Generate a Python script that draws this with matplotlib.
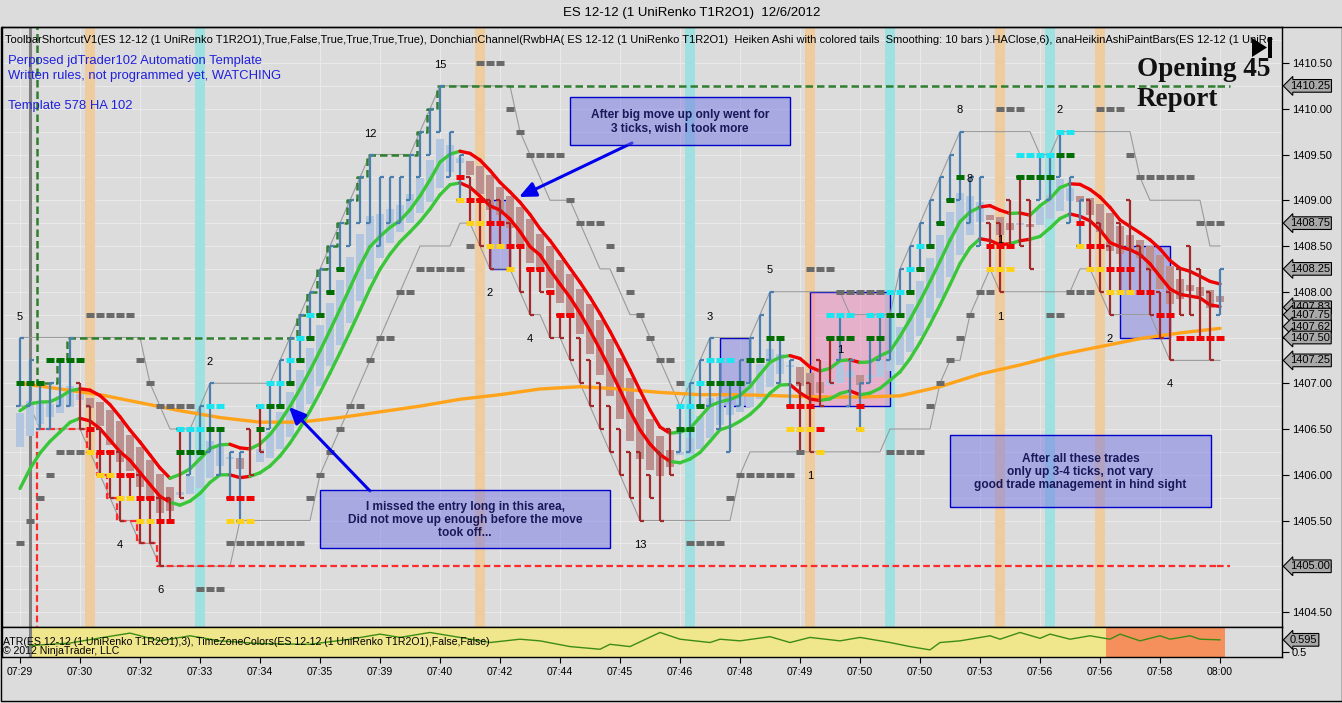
import numpy as np
import matplotlib
matplotlib.use("Agg")
import matplotlib.pyplot as plt
import matplotlib.transforms as mtransforms
from matplotlib.collections import LineCollection
from matplotlib.patches import Rectangle, Polygon

plt.rcParams['font.family'] = ['Liberation Sans', 'DejaVu Sans']

# ---------------- data: prices in ticks above 1404.00 (1 tick = 0.25) ----------------
bar_high = [14, 13, 12, 12, 13, 14, 12, 11, 10, 9,
            9, 8, 8, 7, 7, 7, 10, 10, 11, 12,
            10, 9, 9, 10, 11, 12, 13, 14, 15, 16,
            17, 18, 19, 20, 21, 22, 21, 21, 21, 22,
            23, 24, 25, 23, 22, 21, 20, 20, 20, 19,
            18, 17, 17, 16, 15, 15, 14, 13, 12, 11,
            10, 9, 9, 8, 9, 10, 11, 12, 13, 14,
            13, 12, 13, 14, 15, 16, 14, 13, 12, 12,
            13, 14, 15, 13, 12, 14, 15, 15, 17, 18,
            19, 20, 21, 22, 23, 21, 21, 19, 19, 20,
            21, 20, 22, 22, 23, 21, 20, 20, 19, 18,
            19, 20, 18, 17, 16, 16, 17, 18, 17, 16,
            17]
bar_low = [11, 11, 10, 10, 11, 11, 10, 9, 8, 7,
           6, 7, 5, 5, 4, 6, 7, 8, 9, 9,
           8, 7, 6, 8, 9, 10, 11, 12, 13, 14,
           15, 16, 17, 18, 19, 19, 18, 19, 19, 20,
           21, 22, 23, 21, 20, 19, 18, 17, 18, 17,
           16, 15, 16, 14, 14, 13, 12, 11, 10, 9,
           8, 7, 6, 7, 6, 8, 9, 9, 11, 11,
           10, 9, 11, 12, 13, 13, 12, 11, 9, 9,
           11, 12, 13, 11, 10, 12, 13, 13, 15, 16,
           17, 18, 19, 20, 20, 19, 18, 17, 16, 18,
           18, 17, 20, 20, 21, 19, 18, 17, 16, 15,
           16, 16, 16, 15, 14, 13, 15, 15, 14, 13,
           15]
bar_dir = ("uuuuuudddd" "ddddddduuu" "uuudduuuuu" "uuuuuuuuuu" "uuuuuddddd"
           "dddddddddd" "dddddduuuu" "uuuuuuuudd" "dduuuuuuuu" "uuuuuuuddd"
           "dduuuuuddd" "dddddddddd" "u")

# indicator state at the first visible bar
ha_close_start = 10.7
ha_open_start = 9.2
band_hi_start = 10.8
band_lo_start = 7.4

# slow moving average (orange), read every 4 bars
ma_bars = list(range(0, 121, 4))
ma_ticks = [12.0, 11.75, 11.5, 11.15, 10.8, 10.5, 10.3, 10.3, 10.5, 10.75, 11.0,
            11.3, 11.5, 11.75, 11.85, 11.75, 11.6, 11.5, 11.5, 11.45, 11.4,
            11.4, 11.45, 11.85, 12.4, 12.8, 13.25, 13.6, 13.95, 14.2, 14.4]

# ATR(3) panel values
atr_bars = [1, 5, 8, 11, 14, 17, 20, 24, 29, 33, 36, 38, 41, 44, 47, 50, 52, 55, 58, 59,
            61, 64, 66, 69, 70, 72, 75, 77, 79, 82, 84, 87, 89, 91, 92, 94, 97, 98, 100,
            102, 103, 105, 107, 109, 110, 112, 114, 115, 117, 118, 120]
atr_vals = [0.55, 0.57, 0.61, 0.648, 0.587, 0.627, 0.587, 0.565, 0.56, 0.60, 0.64, 0.614,
            0.653, 0.614, 0.574, 0.60, 0.587, 0.542, 0.521, 0.56, 0.542, 0.653, 0.60, 0.574,
            0.60, 0.587, 0.62, 0.574, 0.614, 0.587, 0.614, 0.574, 0.542, 0.516, 0.574, 0.587,
            0.627, 0.60, 0.653, 0.607, 0.64, 0.60, 0.627, 0.60, 0.64, 0.587, 0.627, 0.60,
            0.627, 0.60, 0.595]

# level markers: (tick, first bar, last bar)
mk_green = [(12, 0, 2), (13, 3, 6), (9, 16, 18), (10, 19, 20), (10, 24, 24), (11, 25, 26),
            (12, 27, 27), (13, 28, 28), (14, 29, 29), (15, 30, 30), (16, 31, 31), (17, 32, 32),
            (10, 66, 67), (11, 68, 68), (12, 69, 72), (13, 73, 74), (14, 75, 76), (14, 81, 83),
            (14, 85, 86), (15, 87, 88), (16, 89, 89), (17, 90, 90), (18, 91, 91), (19, 92, 92),
            (20, 93, 93), (21, 94, 94), (21, 100, 103), (22, 104, 105)]
mk_cyan = [(10, 16, 18), (11, 19, 20), (11, 24, 24), (12, 25, 26), (13, 27, 27), (14, 28, 28),
           (15, 29, 29), (11, 66, 67), (12, 68, 68), (13, 69, 71), (15, 81, 83), (15, 85, 86),
           (16, 87, 88), (17, 89, 89), (18, 90, 90), (22, 100, 103), (23, 104, 105)]
mk_red = [(10, 7, 7), (9, 8, 9), (8, 10, 11), (7, 12, 13), (6, 14, 15), (7, 21, 23),
          (21, 44, 44), (20, 45, 46), (19, 47, 48), (18, 49, 50), (17, 51, 52), (16, 53, 53),
          (15, 54, 55), (11, 77, 79), (10, 80, 80), (11, 84, 84), (18, 97, 99), (19, 106, 106),
          (18, 107, 108), (17, 109, 111), (16, 112, 113), (15, 114, 115), (14, 116, 120)]
mk_yellow = [(9, 7, 7), (8, 8, 9), (7, 10, 11), (6, 12, 13), (6, 21, 23), (20, 44, 44),
             (19, 45, 46), (18, 47, 48), (17, 49, 49), (10, 77, 79), (9, 80, 80), (10, 84, 84),
             (17, 97, 99), (18, 106, 106), (17, 107, 108), (16, 109, 111)]
mk_gray = [(5, 0, 0), (6, 1, 1), (7, 2, 2), (8, 3, 3), (9, 4, 6), (15, 7, 11), (13, 12, 12),
           (12, 13, 13), (11, 14, 17), (3, 18, 20), (5, 21, 28), (7, 29, 29), (8, 30, 30),
           (9, 31, 31), (10, 32, 32), (11, 33, 34), (13, 35, 35), (14, 36, 37), (16, 38, 39),
           (17, 40, 44), (18, 45, 45), (26, 46, 48), (24, 49, 49), (23, 50, 50), (22, 51, 54),
           (20, 55, 55), (19, 56, 58), (18, 59, 59), (17, 60, 60), (16, 61, 61), (15, 62, 62),
           (14, 63, 63), (13, 64, 65), (12, 66, 66), (5, 67, 70), (7, 71, 71), (8, 72, 77),
           (9, 78, 78), (17, 79, 81), (16, 82, 86), (9, 87, 90), (11, 91, 91), (12, 92, 92),
           (13, 93, 93), (14, 94, 94), (15, 95, 95), (16, 96, 97), (24, 98, 100), (15, 103, 104),
           (16, 105, 107), (24, 108, 110), (22, 111, 111), (21, 112, 117), (19, 118, 120)]

# bar-count labels
count_bar = [0, 19, 10, 14, 35, 42, 47, 51, 62, 69, 75, 79, 82, 94, 95, 104, 98, 98, 109, 115]
count_tick = [14.9, 12.95, 4.95, 2.95, 22.9, 25.9, 15.95, 13.95, 4.95, 14.9, 16.95, 7.95,
              13.45, 23.95, 20.95, 23.95, 14.9, 18.25, 13.95, 11.95]
count_text = ["5", "2", "4", "6", "12", "15", "2", "4", "13", "3", "5", "1",
              "1", "8", "8", "2", "1", "1", "2", "4"]

# trade boxes: (first bar, last bar, low tick, high tick)
trade_boxes = [(47, 49, 17, 20), (70, 73, 11, 14), (110, 115, 14, 18)]
pink_boxes = [(79, 87, 11, 16)]

# time-zone colour bands (bar index)
band_orange = [7, 46, 79, 98, 108]
band_cyan = [18, 67, 87, 103]
session_bar = 1
atr_alert_start = 108.6

# x-axis labels (every 6 bars)
time_labels = ["07:29", "07:30", "07:32", "07:33", "07:34", "07:35", "07:39", "07:40",
               "07:42", "07:44", "07:45", "07:46", "07:48", "07:49", "07:50", "07:50",
               "07:53", "07:56", "07:56", "07:58", "08:00"]
price_tags = [1410.25, 1408.75, 1408.25, 1407.83, 1407.75, 1407.62, 1407.50, 1407.25, 1405.00]
atr_tag = 0.595

# ---------------- derived series ----------------
def P(t):
    return 1404.0 + 0.25 * np.asarray(t, float)

hi = np.array(bar_high, float)
lo = np.array(bar_low, float)
up = np.array([d == 'u' for d in bar_dir])
n = len(hi)
idx = np.arange(n)
op = np.where(up, lo, hi)
cl = np.where(up, hi, lo)
mid = (op + hi + lo + cl) / 4


def ema(x, span, seed=None):
    a = 2.0 / (span + 1)
    out = np.empty_like(x)
    out[0] = x[0] if seed is None else seed
    for k in range(1, len(x)):
        out[k] = a * x[k] + (1 - a) * out[k - 1]
    return out


# smoothed Heiken Ashi bodies
hs_c = ema(mid, 4, ha_close_start)
hs_o = np.empty(n)
hs_o[0] = ha_open_start
for k in range(1, n):
    hs_o[k] = (2 * hs_o[k - 1] + hs_c[k - 1]) / 3
bull = hs_c >= hs_o

# raw HA for the two trend lines
ha_o = np.empty(n)
ha_o[0] = ha_open_start
for k in range(1, n):
    ha_o[k] = (ha_o[k - 1] + mid[k - 1]) / 2
line_a = ema(np.maximum(ha_o, mid), 7, band_hi_start)
line_b = ema(np.minimum(ha_o, mid), 7, band_lo_start)

don_hi = np.array([hi[max(0, k - 7):k + 1].max() for k in range(n)])
don_lo = np.array([lo[max(0, k - 7):k + 1].min() for k in range(n)])
s0 = 2
cum_hi = np.maximum.accumulate(hi[s0:])
cum_lo = np.minimum.accumulate(lo[s0:])

# ---------------- figure ----------------
W, H = 1342, 703
BG = '#dcdcdc'
fig = plt.figure(figsize=(W / 100, H / 100), dpi=100)
fig.patch.set_facecolor(BG)
PX = mtransforms.Affine2D().scale(1.0 / W, -1.0 / H).translate(0, 1) + fig.transFigure

L, R, T, B1, B2 = 2, 1282, 27, 626.5, 657
ax = fig.add_axes([L / W, (H - B1) / H, (R - L) / W, (B1 - T) / H])
ax2 = fig.add_axes([L / W, (H - B2) / H, (R - L) / W, (B2 - B1) / H], sharex=ax)
for a in (ax, ax2):
    a.set_facecolor(BG)
    for s in a.spines.values():
        s.set_color('black')
        s.set_linewidth(1.0)

ax.set_xlim(-1.8, 126.2)
ax.set_ylim(1404.3416, 1410.8935)

# grid
for k in range(0, 28):
    ax.axhline(P(k), color='#e9e9e9', lw=0.8, zorder=0.5)
for k in range(0, 121, 6):
    ax.axvline(k, color='#e9e9e9', lw=0.8, zorder=0.5)

# time zone bands
for b in band_orange:
    ax.axvspan(b - 0.5, b + 0.5, color='#efcc9e', lw=0, zorder=0.6)
for b in band_cyan:
    ax.axvspan(b - 0.5, b + 0.5, color='#9fe0e0', lw=0, zorder=0.6)
ax.axvline(session_bar, color='#808080', lw=2.2, zorder=0.7)

# trade boxes
for (i0, i1, t0, t1) in trade_boxes:
    ax.add_patch(Rectangle((i0, P(t0)), i1 - i0, P(t1) - P(t0), fc=(0.47, 0.47, 0.9, 0.45),
                           ec='#0000cc', lw=1.0, zorder=1))
for (i0, i1, t0, t1) in pink_boxes:
    ax.add_patch(Rectangle((i0, P(t0)), i1 - i0, P(t1) - P(t0), fc=(0.95, 0.45, 0.7, 0.42),
                           ec='#0000cc', lw=1.0, zorder=1))

# donchian (gray)
ax.plot(idx, P(don_hi), color='#9a9a9a', lw=0.8, zorder=2)
ax.plot(idx, P(don_lo), color='#9a9a9a', lw=0.8, zorder=2)

# heiken ashi bodies
bc = np.where(bull, '#b3c6e0', '#bd9090')
ax.bar(idx, P(hs_c) - P(hs_o), bottom=P(hs_o), width=0.72, color=bc, lw=0, zorder=2.2)

# session high / low (dashed)
xs = np.concatenate([[s0 - 0.3], idx[s0:] - 0.3])
ax.plot(xs, np.concatenate([[P(40)], P(cum_hi)]), color='#2f7f2f', lw=1.8,
        ls=(0, (3, 1.6)), drawstyle='steps-post', zorder=3)
ax.plot(xs, np.concatenate([[P(-10)], P(cum_lo)]), color='#ff2a2a', lw=1.6,
        ls=(0, (3, 1.6)), drawstyle='steps-post', zorder=3)
ax.plot([idx[-1] - 0.3, 121], [P(cum_hi[-1])] * 2, color='#2f7f2f', lw=1.8, ls=(0, (3, 1.6)), zorder=3)
ax.plot([idx[-1] - 0.3, 121], [P(cum_lo[-1])] * 2, color='#ff2a2a', lw=1.6, ls=(0, (3, 1.6)), zorder=3)

# orange average
ax.plot(ma_bars, P(ma_ticks), color='#ffa31a', lw=2.4, zorder=3.2, solid_capstyle='round')

# smoothed HA lines coloured by trend
for line in (line_a, line_b):
    pts = np.column_stack([idx, P(line)])
    segs = np.stack([pts[:-1], pts[1:]], axis=1)
    cols = ['#39c639' if bull[k + 1] else '#f00000' for k in range(n - 1)]
    ax.add_collection(LineCollection(segs, colors=cols, lw=2.4, zorder=3.5, capstyle='round'))

# OHLC bars
colors = np.where(up, '#4a7fb0', '#a32a2a')
ax.vlines(idx, P(lo), P(hi), colors=colors, lw=1.6, zorder=4)
ax.hlines(P(op), idx - 0.38, idx, colors=colors, lw=1.6, zorder=4)
ax.hlines(P(cl), idx, idx + 0.38, colors=colors, lw=1.6, zorder=4)

# level markers
for marks, c in ((mk_gray, '#6a6a6a'), (mk_green, '#006e00'), (mk_cyan, '#19e6f0'),
                 (mk_red, '#f00000'), (mk_yellow, '#ffd21a')):
    for (t, i0, i1) in marks:
        bars_ = np.arange(i0, i1 + 1)
        ax.hlines(np.full(len(bars_), P(t)), bars_ - 0.42, bars_ + 0.42, colors=c, lw=3.6,
                  zorder=5)

# counts
for bi, bt, tx in zip(count_bar, count_tick, count_text):
    ax.text(bi, P(bt), tx, fontsize=8, ha='center', va='center', color='black', zorder=6)

# axis ticks (right)
ax.yaxis.tick_right()
ax.set_yticks(np.arange(1404.5, 1410.51, 0.5))
ax.set_yticklabels(['%.2f' % v for v in np.arange(1404.5, 1410.51, 0.5)], fontsize=8)
ax.tick_params(axis='y', direction='out', length=5, pad=2, colors='black')
ax.tick_params(axis='x', bottom=False, labelbottom=False)

blend = mtransforms.blended_transform_factory(ax.transAxes, ax.transData)
for v in price_tags:
    ax.text(1.0 + 8 / 1280, v, '%.2f' % v, transform=blend, ha='left', va='center', fontsize=8,
            bbox=dict(boxstyle='larrow,pad=0.12', fc='#a9a9a9', ec='black', lw=0.8),
            clip_on=False, zorder=7)

# header texts
ax.text(5, 40, "ToolbarShortcutV1(ES 12-12 (1 UniRenko T1R2O1),True,False,True,True,True,True), "
        "DonchianChannel(RwbHA( ES 12-12 (1 UniRenko T1R2O1)  Heiken Ashi with colored tails  "
        "Smoothing: 10 bars ).HAClose,6), anaHeikinAshiPaintBars(ES 12-12 (1 UniRe",
        transform=PX, fontsize=8.0, va='center', ha='left', clip_on=True, zorder=9)
for y, s in ((61, "Perposed jdTrader102 Automation Template"),
             (75.5, "Written rules, not programmed yet, WATCHING"),
             (106, "Template 578 HA 102")):
    ax.text(8, y, s, transform=PX, fontsize=9.4, color='#2020dd', va='center', ha='left', zorder=9)

fig.text(1137, 69, "Opening 45", transform=PX, fontsize=19.5, fontweight='bold',
         family='Liberation Serif', va='center', ha='left', color='#111111')
fig.text(1137, 99, "Report", transform=PX, fontsize=19.5, fontweight='bold',
         family='Liberation Serif', va='center', ha='left', color='#111111')
fig.patches.append(Polygon([(1252, 38), (1252, 57), (1267, 47.5)], closed=True, fc='black',
                           ec='none', transform=PX, figure=fig))
fig.patches.append(Rectangle((1268, 37), 4, 21, fc='black', ec='none', transform=PX, figure=fig))

fig.text(692, 13, "ES 12-12 (1 UniRenko T1R2O1)  12/6/2012", transform=PX, fontsize=9.5,
         ha='center', va='center')

# annotation boxes
notes = [((570, 97, 220, 48), "After big move up only went for\n3 ticks, wish I took more",
          (632, 143), (519, 197)),
         ((320, 490, 290, 58), "I missed the entry long in this area,\nDid not move up enough before the move\ntook off...",
          (370, 491), (289, 407)),
         ((950, 435, 261, 72), "After all these trades\nonly up 3-4 ticks, not vary\ngood trade management in hind sight",
          None, None)]
for (x0, y0, w, h), txt, tail, head in notes:
    fig.patches.append(Rectangle((x0, y0 + h), w, -h, fc=(0.47, 0.47, 0.9, 0.5), ec='#0000cc',
                                 lw=1.0, transform=PX, figure=fig, zorder=8))
    fig.text(x0 + w / 2, y0 + h / 2 + 1, txt, transform=PX, fontsize=8.6, fontweight='bold',
             color='#18185a', ha='center', va='center', linespacing=1.12, zorder=9)
    if tail is not None:
        ax.annotate('', xy=head, xycoords=PX, xytext=tail, textcoords=PX,
                    arrowprops=dict(arrowstyle='-|>,head_width=0.45,head_length=1.0', color='#0000ee',
                                    lw=2.2, shrinkA=0, shrinkB=0), zorder=9, annotation_clip=False)

# ---------------- ATR panel ----------------
ax2.set_ylim(0.46, 0.70)
ax2.axvspan(session_bar, atr_alert_start, color='#f0e68c', lw=0, zorder=0.5)
ax2.axvspan(atr_alert_start, n - 0.5, color='#f5905c', lw=0, zorder=0.5)
ax2.axvline(session_bar, color='#808080', lw=2.2, zorder=0.7)
ax2.plot(atr_bars, atr_vals, color='#3c8c14', lw=1.0, zorder=2)
ax2.yaxis.tick_right()
ax2.set_yticks([0.5])
ax2.set_yticklabels(['0.5'], fontsize=8)
ax2.tick_params(axis='y', direction='out', length=5, pad=2)
ax2.set_xticks(np.arange(0, 121, 6))
ax2.set_xticklabels(time_labels, fontsize=7.6)
ax2.tick_params(axis='x', direction='out', length=4, pad=3)
blend2 = mtransforms.blended_transform_factory(ax2.transAxes, ax2.transData)
ax2.text(1.0 + 8 / 1280, atr_tag, '%.3f' % atr_tag, transform=blend2, ha='left', va='center',
         fontsize=8, bbox=dict(boxstyle='larrow,pad=0.12', fc='#a9a9a9', ec='black', lw=0.8),
         clip_on=False, zorder=7)
ax2.text(3, 642, "ATR(ES 12-12 (1 UniRenko T1R2O1),3), TimeZoneColors(ES 12-12 (1 UniRenko T1R2O1),False,False)",
         transform=PX, fontsize=7.6, va='center', ha='left', zorder=5)
ax2.text(3, 651.5, "\u00a9 2012 NinjaTrader, LLC", transform=PX, fontsize=7.6, va='center',
         ha='left', zorder=5)

# outer frame
fig.patches.append(Rectangle((0.5, 701), 1341, -674, fc='none', ec='black', lw=1.0,
                             transform=PX, figure=fig))

fig.savefig('out.png', dpi=100, facecolor=BG)
